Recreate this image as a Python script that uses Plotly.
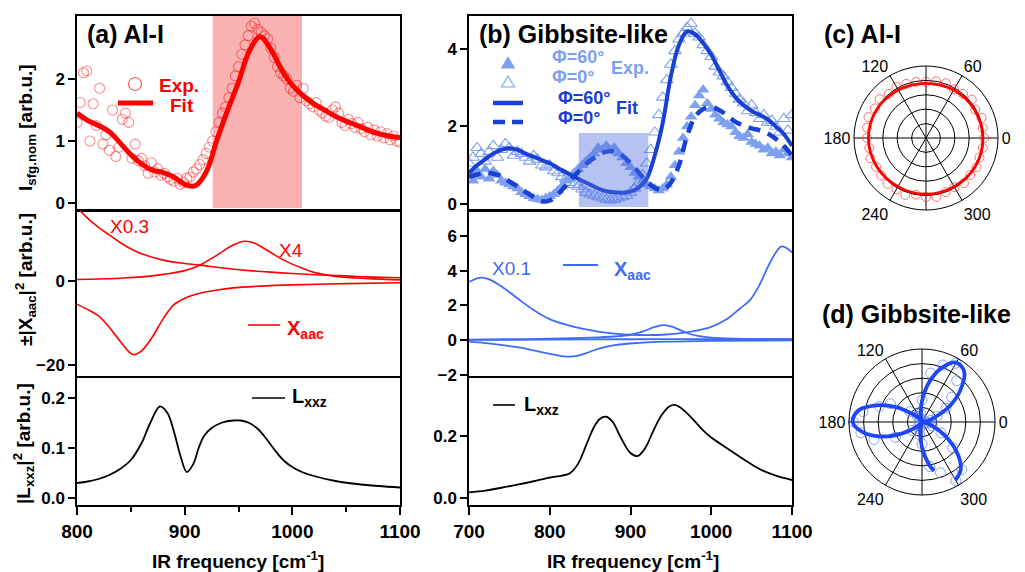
import plotly.graph_objects as go

OX, OY = 8, 8   # page body margin of the html page
W, H = 1025 - 2 * OX, 572 - OY
FONT = "Liberation Sans, Arial, sans-serif"

# ---------------- panel (a) Al-I ----------------
a_exp_freq = list(range(800, 1101, 3))
a_exp_int = [1.30, 1.62, 2.10, 2.13, 1.00, 1.60, 1.25, 1.85, 0.95, 1.10,
             0.85, 1.50, 0.75, 0.90, 1.35, 1.45, 1.30, 0.72, 0.95, 0.68,
             0.72, 0.60, 0.48, 0.65, 0.50, 0.55, 0.45, 0.48, 0.42, 0.38,
             0.35, 0.40, 0.30, 0.33, 0.40, 0.42, 0.50, 0.55, 0.62, 0.70,
             0.80, 0.90, 1.00, 1.15, 1.30, 1.45, 1.55, 1.70, 1.85, 2.05,
             2.20, 2.40, 2.55, 2.70, 2.85, 2.90, 2.80, 2.75, 2.70, 2.65,
             2.50, 2.35, 2.20, 2.10, 2.05, 2.00, 1.85, 1.80, 1.90, 1.70,
             1.85, 1.65, 1.60, 1.55, 1.62, 1.50, 1.45, 1.40, 1.38, 1.50,
             1.55, 1.45, 1.30, 1.25, 1.35, 1.28, 1.22, 1.30, 1.20, 1.15,
             1.22, 1.10, 1.18, 1.08, 1.15, 1.05, 1.12, 1.02, 1.08, 1.00,
             0.98]
a_fit_freq = list(range(800, 1101, 10))
a_fit_int = [1.45, 1.33, 1.25, 1.15, 0.97, 0.78, 0.63, 0.53, 0.49, 0.42,
             0.30, 0.28, 0.50, 1.02, 1.50, 1.95, 2.45, 2.68, 2.48, 2.15,
             1.90, 1.73, 1.60, 1.50, 1.40, 1.32, 1.25, 1.18, 1.12, 1.08, 1.05]

a_x03_freq = [800, 809, 820, 830, 840, 852, 860, 880, 900, 914, 940, 960, 977, 1000, 1020, 1045, 1070, 1100]
a_x03_val = [17.5, 15.2, 12.8, 11.0, 9.2, 7.4, 6.5, 5.0, 4.2, 3.8, 3.0, 2.5, 2.2, 1.8, 1.5, 1.3, 1.0, 0.8]
a_x4_freq = [800, 820, 840, 860, 880, 900, 914, 930, 945, 956, 965, 980, 992, 1010, 1023, 1045, 1070, 1100]
a_x4_val = [0.4, 0.5, 0.7, 1.0, 1.6, 2.5, 3.8, 6.2, 8.6, 9.5, 9.0, 6.8, 5.0, 3.0, 1.9, 1.0, 0.6, 0.3]
a_chi_freq = [800, 810, 820, 830, 840, 852, 860, 870, 880, 890, 900, 914, 930, 945, 970, 1000, 1050, 1100]
a_chi_val = [-5.5, -6.8, -8.3, -11.0, -14.3, -17.5, -16.6, -13.3, -9.0, -5.6, -4.1, -2.9, -2.1, -1.6, -1.2, -0.9, -0.6, -0.4]

a_L_freq = [800, 810, 820, 830, 840, 850, 860, 868, 877, 884, 890, 896, 902, 908, 913, 918, 925, 935, 945, 952,
            960, 968, 976, 984, 992, 1000, 1010, 1020, 1040, 1060, 1080, 1100]
a_L_val = [0.030, 0.033, 0.038, 0.046, 0.058, 0.076, 0.110, 0.150, 0.183, 0.170, 0.133, 0.085, 0.052, 0.068, 0.100,
           0.124, 0.140, 0.151, 0.155, 0.155, 0.150, 0.138, 0.118, 0.095, 0.075, 0.062, 0.051, 0.044, 0.034,
           0.028, 0.024, 0.021]

# ---------------- panel (b) Gibbsite-like ----------------
b_exp_freq = list(range(700, 1101, 5))
b_exp_open = [1.05, 1.20, 1.45, 1.30, 1.10, 1.35, 1.50, 1.20, 1.40, 1.55,
              1.45, 1.25, 1.35, 1.30, 1.20, 1.10, 1.25, 1.15, 1.00, 0.95,
              1.00, 0.85, 0.80, 0.70, 0.65, 0.55, 0.50, 0.45, 0.38, 0.30,
              0.25, 0.22, 0.18, 0.15, 0.12, 0.10, 0.12, 0.15, 0.18, 0.22,
              0.30, 0.40, 0.55, 0.75, 1.05, 1.40, 1.85, 2.30, 2.75, 3.20,
              3.60, 3.95, 4.25, 4.40, 4.55, 4.65, 4.40, 4.30, 4.10, 3.95,
              3.80, 3.55, 3.40, 3.30, 3.15, 3.00, 2.85, 2.70, 2.60, 2.40,
              2.55, 2.35, 2.20, 2.30, 2.10, 2.15, 2.00, 1.85, 2.20, 1.90,
              2.30]
b_exp_filled = [0.75, 0.60, 0.85, 0.70, 0.90, 0.65, 0.85, 0.75, 0.60, 0.55,
                0.50, 0.45, 0.40, 0.30, 0.25, 0.20, 0.15, 0.12, 0.10, 0.15,
                0.20, 0.25, 0.35, 0.45, 0.60, 0.65, 0.80, 0.90, 1.00, 1.10,
                1.20, 1.30, 1.45, 1.40, 1.50, 1.40, 1.45, 1.30, 1.20, 1.05,
                0.95, 0.80, 0.70, 0.60, 0.50, 0.45, 0.40, 0.35, 0.40, 0.50,
                0.70, 1.00, 1.35, 1.70, 2.00, 2.25, 2.55, 2.80, 2.95, 2.60,
                2.45, 2.30, 2.20, 2.10, 2.05, 2.00, 1.85, 1.75, 1.70, 1.80,
                1.60, 1.55, 1.50, 1.40, 1.45, 1.30, 1.35, 1.25, 1.40, 1.30,
                1.20]
b_fit_freq = list(range(700, 1101, 10))
b_fit_solid = [0.80, 1.00, 1.15, 1.30, 1.40, 1.44, 1.40, 1.30, 1.22, 1.13,
               1.05, 0.93, 0.82, 0.71, 0.60, 0.50, 0.40, 0.33, 0.30, 0.29,
               0.32, 0.42, 0.65, 1.25, 2.10, 3.30, 4.10, 4.45, 4.38, 4.15,
               3.85, 3.45, 3.05, 2.75, 2.55, 2.40, 2.30, 2.18, 2.00, 1.80, 1.50]
b_fit_dashed = [0.70, 0.76, 0.80, 0.78, 0.72, 0.58, 0.45, 0.31, 0.18, 0.07,
                0.09, 0.25, 0.48, 0.72, 0.92, 1.12, 1.25, 1.35, 1.35, 1.25,
                1.05, 0.82, 0.58, 0.42, 0.36, 0.55, 1.00, 1.75, 2.25, 2.45,
                2.50, 2.42, 2.28, 2.12, 2.02, 1.95, 1.90, 1.82, 1.68, 1.50, 1.25]

b_x01_freq = [700, 710, 716, 725, 740, 760, 780, 800, 820, 840, 860, 880, 900, 920, 940, 960, 980, 1000,
              1020, 1036, 1048, 1060, 1070, 1080, 1087, 1095, 1100]
b_x01_val = [3.35, 3.55, 3.60, 3.50, 3.10, 2.40, 1.73, 1.20, 0.88, 0.65, 0.48, 0.37, 0.30, 0.28, 0.30, 0.38,
             0.52, 0.75, 1.22, 1.83, 2.30, 3.20, 4.20, 5.05, 5.40, 5.25, 5.05]
b_bump_freq = [700, 750, 800, 850, 880, 900, 915, 930, 940, 950, 960, 970, 985, 1000, 1030, 1060, 1100]
b_bump_val = [0.02, 0.04, 0.07, 0.13, 0.20, 0.30, 0.48, 0.75, 0.86, 0.78, 0.60, 0.40, 0.22, 0.13, 0.07, 0.05, 0.04]
b_flat_freq = [700, 800, 900, 1000, 1100]
b_flat_val = [0.00, 0.02, 0.04, 0.05, 0.05]
b_neg_freq = [700, 720, 740, 760, 780, 800, 815, 825, 835, 850, 862, 880, 903, 945, 1000, 1100]
b_neg_val = [-0.10, -0.18, -0.29, -0.42, -0.60, -0.80, -0.93, -0.96, -0.90, -0.68, -0.48, -0.30, -0.19, -0.10, -0.05, -0.02]

b_L_freq = [700, 720, 740, 760, 780, 800, 815, 825, 835, 845, 855, 862, 870, 878, 888, 900, 909, 918, 928,
            938, 948, 955, 965, 978, 990, 1000, 1020, 1040, 1060, 1080, 1100]
b_L_val = [0.018, 0.024, 0.033, 0.043, 0.054, 0.066, 0.072, 0.080, 0.110, 0.170, 0.230, 0.255, 0.262, 0.245,
           0.195, 0.145, 0.135, 0.160, 0.215, 0.265, 0.295, 0.300, 0.285, 0.252, 0.218, 0.195, 0.160, 0.125,
           0.093, 0.072, 0.058]

# ---------------- panel (c) polar Al-I ----------------
c_exp_phi = list(range(0, 360, 10))
c_exp_r = [0.81, 0.80, 0.82, 0.79, 0.83, 0.80, 0.78, 0.81, 0.80, 0.78, 0.79, 0.80,
           0.82, 0.80, 0.84, 0.82, 0.85, 0.83, 0.82, 0.80, 0.82, 0.80, 0.81, 0.83,
           0.82, 0.84, 0.80, 0.82, 0.83, 0.80, 0.79, 0.82, 0.80, 0.81, 0.79, 0.80]
c_fit_phi = list(range(0, 361, 30))
c_fit_r = [0.79, 0.78, 0.77, 0.76, 0.77, 0.79, 0.80, 0.79, 0.78, 0.78, 0.78, 0.79, 0.79]

# ---------------- panel (d) polar Gibbsite-like ----------------
d_exp_phi = list(range(0, 360, 10))
d_exp_r = [0.06, 0.12, 0.22, 0.38, 0.53, 0.74, 0.93, 0.83, 0.68, 0.30, 0.12, 0.06,
           0.08, 0.10, 0.22, 0.50, 0.62, 0.82, 0.94, 0.85, 0.70, 0.42, 0.18, 0.07,
           0.05, 0.10, 0.18, 0.30, 0.62, 0.74, 0.93, 0.85, 0.55, 0.30, 0.15, 0.08]
d_fit_phi = [-60, -50, -40, -30, -20, -10, 0, 10, 20, 30, 40, 50, 60, 70, 80, 90, 100, 110, 120,
             130, 140, 150, 160, 170, 180, 190, 200, 210, 220, 230, 240, 250, 260, 270, 280, 284]
d_fit_r = [0.92, 0.83, 0.61, 0.35, 0.14, 0.03, 0.005, 0.07, 0.18, 0.44, 0.69, 0.90, 0.94, 0.79, 0.55,
           0.29, 0.11, 0.02, 0.0, 0.06, 0.17, 0.41, 0.67, 0.89, 0.95, 0.82, 0.58, 0.31, 0.12, 0.03,
           0.0, 0.03, 0.14, 0.35, 0.61, 0.69]

RED = "#FF0000"
LIGHT_BLUE = "#7EA0F2"
DARK_BLUE = "#1840D2"
MID_BLUE = "#3F6BFA"
POLAR_BLUE = "#1E46F5"


def px(x):
    return (x - OX) / W


def py(y):
    return 1 - (y - OY) / H


fig = go.Figure()

# ----- traces panel (a)
fig.add_trace(go.Scatter(x=a_exp_freq, y=a_exp_int, mode="markers", xaxis="x", yaxis="y",
                         marker=dict(symbol="circle-open", size=10, color="rgba(255,0,0,0.45)",
                                     line=dict(width=1.1, color="rgba(255,0,0,0.45)")), showlegend=False))
fig.add_trace(go.Scatter(x=a_fit_freq, y=a_fit_int, mode="lines", xaxis="x", yaxis="y",
                         line=dict(color=RED, width=5, shape="spline"), showlegend=False))
for fx, fy in [(a_x03_freq, a_x03_val), (a_x4_freq, a_x4_val), (a_chi_freq, a_chi_val)]:
    fig.add_trace(go.Scatter(x=fx, y=fy, mode="lines", xaxis="x2", yaxis="y2",
                             line=dict(color=RED, width=1.6, shape="spline"), showlegend=False))
fig.add_trace(go.Scatter(x=a_L_freq, y=a_L_val, mode="lines", xaxis="x3", yaxis="y3",
                         line=dict(color="black", width=1.8, shape="spline"), showlegend=False))

# ----- traces panel (b)
fig.add_trace(go.Scatter(x=b_exp_freq, y=b_exp_open, mode="markers", xaxis="x4", yaxis="y4",
                         marker=dict(symbol="triangle-up-open", size=11, color=LIGHT_BLUE,
                                     line=dict(width=1.1, color=LIGHT_BLUE)), showlegend=False))
fig.add_trace(go.Scatter(x=b_exp_freq, y=b_exp_filled, mode="markers", xaxis="x4", yaxis="y4",
                         marker=dict(symbol="triangle-up", size=11, color=LIGHT_BLUE), showlegend=False))
fig.add_trace(go.Scatter(x=b_fit_freq, y=b_fit_solid, mode="lines", xaxis="x4", yaxis="y4",
                         line=dict(color=DARK_BLUE, width=4, shape="spline"), showlegend=False))
fig.add_trace(go.Scatter(x=b_fit_freq, y=b_fit_dashed, mode="lines", xaxis="x4", yaxis="y4",
                         line=dict(color=DARK_BLUE, width=4.5, shape="spline", dash="12px,8px"),
                         showlegend=False))
for fx, fy in [(b_x01_freq, b_x01_val), (b_bump_freq, b_bump_val), (b_flat_freq, b_flat_val),
               (b_neg_freq, b_neg_val)]:
    fig.add_trace(go.Scatter(x=fx, y=fy, mode="lines", xaxis="x5", yaxis="y5",
                             line=dict(color=MID_BLUE, width=1.8, shape="spline"), showlegend=False))
fig.add_trace(go.Scatter(x=b_L_freq, y=b_L_val, mode="lines", xaxis="x6", yaxis="y6",
                         line=dict(color="black", width=1.8, shape="spline"), showlegend=False))

# ----- polar traces
fig.add_trace(go.Scatterpolar(theta=c_exp_phi, r=c_exp_r, mode="markers", subplot="polar",
                              marker=dict(symbol="circle-open", size=9, color="rgba(255,0,0,0.55)",
                                          line=dict(width=1)), showlegend=False))
fig.add_trace(go.Scatterpolar(theta=c_fit_phi, r=c_fit_r, mode="lines", subplot="polar",
                              line=dict(color=RED, width=2.8, shape="spline"), showlegend=False))
fig.add_trace(go.Scatterpolar(theta=d_exp_phi, r=d_exp_r, mode="markers", subplot="polar2",
                              marker=dict(symbol="circle-open", size=10, color="rgba(90,130,255,0.75)",
                                          line=dict(width=1)), showlegend=False))
fig.add_trace(go.Scatterpolar(theta=d_fit_phi, r=d_fit_r, mode="lines", subplot="polar2",
                              line=dict(color=POLAR_BLUE, width=3.8, shape="spline"), showlegend=False))

# ----- axes
XA = [77, 400]
XB = [469, 792]
ROWS = [(16, 210), (211, 376), (378, 505)]


def dom_x(p):
    return [px(p[0]), px(p[1])]


def dom_y(r):
    return [py(r[1]), py(r[0])]


def xaxis(dx, dy_anchor, rng, bottom, ticks, minor=False):
    d = dict(domain=dx, range=rng, anchor=dy_anchor, showline=True, linecolor="black", linewidth=1.5,
             mirror=True, showgrid=False, zeroline=False, showticklabels=bottom, automargin=False,
             ticks="outside" if bottom else "", ticklen=8, tickwidth=1.5, tickcolor="black",
             tickmode="array", tickvals=ticks,
             tickfont=dict(family=FONT, size=19, color="black", weight="bold"))
    if minor and bottom:
        d["minor"] = dict(ticks="outside", ticklen=5, tickwidth=1.5, tickcolor="black",
                          tickmode="array", tickvals=minor)
    return d


def yaxis(dy, anchor, rng, ticks, fmt=None):
    d = dict(domain=dy, range=rng, anchor=anchor, showline=True, linecolor="black", linewidth=1.5,
             mirror=True, showgrid=False, zeroline=False, ticks="outside", ticklen=7, tickwidth=1.5,
             tickcolor="black", tickmode="array", tickvals=ticks, automargin=False,
             tickfont=dict(family=FONT, size=17, color="black", weight="bold"))
    if fmt:
        d["tickformat"] = fmt
    return d


a_xticks = [800, 900, 1000, 1100]
a_xminor = [850, 950, 1050]
b_xticks = [700, 800, 900, 1000, 1100]

layout = dict(
    template="none",
    width=W, height=H, autosize=False, margin=dict(l=0, r=0, t=0, b=0, pad=0),
    paper_bgcolor="white", plot_bgcolor="white", showlegend=False,
    font=dict(family=FONT, color="black"),
    xaxis=xaxis(dom_x(XA), "y", [800, 1100], False, a_xticks),
    xaxis2=xaxis(dom_x(XA), "y2", [800, 1100], False, a_xticks),
    xaxis3=xaxis(dom_x(XA), "y3", [800, 1100], True, a_xticks, minor=a_xminor),
    xaxis4=xaxis(dom_x(XB), "y4", [700, 1100], False, b_xticks),
    xaxis5=xaxis(dom_x(XB), "y5", [700, 1100], False, b_xticks),
    xaxis6=xaxis(dom_x(XB), "y6", [700, 1100], True, b_xticks),
    yaxis=yaxis(dom_y(ROWS[0]), "x", [-0.113, 3.016], [0, 1, 2]),
    yaxis2=yaxis(dom_y(ROWS[1]), "x2", [-22.6, 16.7], [-20, 0]),
    yaxis3=yaxis(dom_y(ROWS[2]), "x3", [-0.014, 0.24], [0, 0.1, 0.2], ".1f"),
    yaxis4=yaxis(dom_y(ROWS[0]), "x4", [-0.155, 4.85], [0, 2, 4]),
    yaxis5=yaxis(dom_y(ROWS[1]), "x5", [-2.08, 7.44], [-2, 0, 2, 4, 6]),
    yaxis6=yaxis(dom_y(ROWS[2]), "x6", [-0.0226, 0.387], [0, 0.2], ".1f"),
)


def polar(dx, dy):
    return dict(
        domain=dict(x=[px(dx[0]), px(dx[1])], y=[py(dy[1]), py(dy[0])]),
        bgcolor="white",
        radialaxis=dict(range=[0, 1], tickvals=[0.2, 0.4, 0.6, 0.8], showticklabels=False, ticks="",
                        showline=False, gridcolor="black", gridwidth=1),
        angularaxis=dict(tickmode="array", tickvals=[0, 60, 90, 120, 180, 240, 270, 300],
                         ticktext=["0", "60", " ", "120", "180", "240", " ", "300"],
                         direction="counterclockwise", rotation=0, showline=True, linecolor="black",
                         linewidth=1, gridcolor="black", gridwidth=1, ticks="",
                         tickfont=dict(family=FONT, size=16, color="black")),
    )


layout["polar"] = polar((854, 998), (66, 210))
layout["polar2"] = polar((849, 995), (349, 495))

# ----- shaded highlight boxes
shapes = [
    dict(type="rect", xref="x", yref="y domain", x0=926, x1=1009, y0=0.01, y1=1.0,
         fillcolor="rgba(240,60,60,0.4)", line=dict(width=0), layer="below"),
    dict(type="rect", xref="x4", yref="y4", x0=836, x1=922, y0=-0.08, y1=1.83,
         fillcolor="rgba(80,110,225,0.42)", line=dict(width=0), layer="above"),
]


def hline(x0, x1, y, color, width, dash=None):
    ln = dict(color=color, width=width)
    if dash:
        ln["dash"] = dash
    return dict(type="line", xref="paper", yref="paper", x0=px(x0), x1=px(x1), y0=py(y), y1=py(y), line=ln)


# legend keys
shapes += [
    dict(type="circle", xref="paper", yref="paper", x0=px(128.5), x1=px(141.5), y0=py(90.5), y1=py(77.5),
         line=dict(color="rgba(255,60,60,0.85)", width=1.2)),
    hline(118, 153, 103, RED, 5),
    hline(248, 280, 325, RED, 1.6),
    hline(252, 285, 398, "black", 1.6),
    dict(type="path", xref="paper", yref="paper", xsizemode="pixel", ysizemode="pixel",
         xanchor=px(508), yanchor=py(63), path="M -6.5,-5 L 6.5,-5 L 0,6 Z",
         fillcolor=LIGHT_BLUE, line=dict(color=LIGHT_BLUE, width=1)),
    dict(type="path", xref="paper", yref="paper", xsizemode="pixel", ysizemode="pixel",
         xanchor=px(508), yanchor=py(82), path="M -6.5,-5 L 6.5,-5 L 0,6 Z",
         fillcolor="rgba(0,0,0,0)", line=dict(color=LIGHT_BLUE, width=1.1)),
    hline(493, 523, 103, DARK_BLUE, 4.5),
    hline(493, 523, 122, DARK_BLUE, 4.5, dash="12px,7px"),
    hline(563, 598, 265, MID_BLUE, 1.8),
    hline(493, 515, 405, "black", 1.6),
]
layout["shapes"] = shapes


def txt(x, y, s, size, color="black", bold=True, anchor="left", angle=0):
    return dict(x=px(x), y=py(y), xref="paper", yref="paper", text=s, showarrow=False,
                xanchor=anchor, yanchor="middle", textangle=angle,
                font=dict(family=FONT, size=size, color=color, weight="bold" if bold else "normal"))


ann = [
    txt(85, 34, "(a) Al-I", 25),
    txt(477, 34, "(b) Gibbsite-like", 25),
    txt(822, 34, "(c) Al-I", 25),
    txt(820, 314, "(d) Gibbsite-like", 25),
    # y titles
    txt(27, 128, "I<sub>sfg.nom</sub> [arb.u.]", 19, anchor="center", angle=-90),
    txt(25, 280, "±|Χ<sub>aac</sub>|<sup>2</sup> [arb.u.]", 19, anchor="center", angle=-90),
    txt(23, 444, "|L<sub>xxz</sub>|<sup>2</sup> [arb.u.]", 19, anchor="center", angle=-90),
    # x titles
    txt(238, 560, "IR frequency [cm<sup>-1</sup>]", 19, anchor="center"),
    txt(633, 560, "IR frequency [cm<sup>-1</sup>]", 19, anchor="center"),
    # legends (a)
    txt(157, 85, "Exp.", 19, RED),
    txt(168, 105, "Fit", 19, RED),
    txt(108, 226, "X0.3", 19, RED, bold=False),
    txt(277, 250, "X4", 19, RED, bold=False),
    txt(285, 329, "Χ<sub>aac</sub>", 20, RED),
    txt(290, 397, "L<sub>xxz</sub>", 20),
    # legends (b)
    txt(550, 57, "Φ=60°", 18, LIGHT_BLUE),
    txt(550, 77, "Φ=0°", 18, LIGHT_BLUE),
    txt(609, 68, "Exp.", 18, LIGHT_BLUE),
    txt(556, 98, "Φ=60°", 18, DARK_BLUE),
    txt(556, 118, "Φ=0°", 18, DARK_BLUE),
    txt(614, 108, "Fit", 18, DARK_BLUE),
    txt(490, 268, "X0.1", 19, MID_BLUE, bold=False),
    txt(612, 270, "Χ<sub>aac</sub>", 20, MID_BLUE),
    txt(522, 405, "L<sub>xxz</sub>", 20),
]
layout["annotations"] = ann

fig.update_layout(**layout)
fig.write_html("out.html")
